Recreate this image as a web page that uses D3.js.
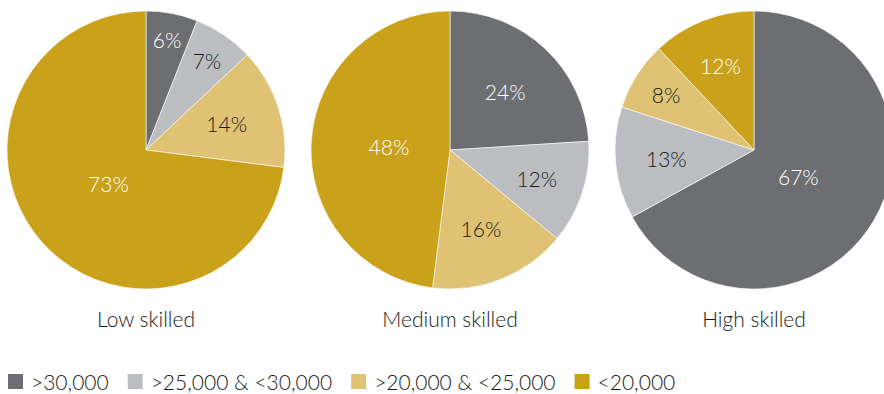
<!DOCTYPE html>
<html><head><meta charset="utf-8">
<script src="https://cdn.jsdelivr.net/npm/d3@7"></script>
<style>body{margin:0;background:#fff;overflow:hidden}svg{display:block}text{font-family:Lato,"Open Sans",sans-serif;font-weight:300}</style>
</head><body>
<svg id="c" width="884" height="394"></svg>
<script>
const series = [">30,000", ">25,000 & <30,000", ">20,000 & <25,000", "<20,000"];
const groups = ["Low skilled", "Medium skilled", "High skilled"];
const lowSkilled = [6, 7, 14, 73];
const mediumSkilled = [24, 12, 16, 48];
const highSkilled = [67, 13, 8, 12];
const colors = ["#6d6e71", "#bcbdc0", "#dfc274", "#c9a11a"];
const labelColors = ["#ffffff", "#1a1a1a", "#1a1a1a", "#ffffff"];

const data = [lowSkilled, mediumSkilled, highSkilled];
const svg = d3.select("#c");
const R = 139, cy = 150;
const cx = d3.scalePoint().domain(groups).range([146, 754]);
const pie = d3.pie().sort(null).value(d => d);
const arc = d3.arc().innerRadius(0).outerRadius(R);
const labelFrac = d3.scaleLinear().domain([0.06, 0.08, 0.14, 0.24, 0.48, 0.7]).range([0.81, 0.75, 0.61, 0.58, 0.44, 0.36]).clamp(true);

groups.forEach((g, gi) => {
  const vals = data[gi];
  const total = d3.sum(vals);
  const G = svg.append("g").attr("transform", `translate(${cx(g)},${cy})`);
  const arcs = pie(vals);
  G.selectAll("path").data(arcs).join("path")
    .attr("d", arc).attr("fill", (d, i) => colors[i])
    .attr("stroke", "#fff").attr("stroke-width", 0.6);
  G.selectAll("text.v").data(arcs).join("text").attr("class", "v")
    .each(function (d, i) {
      const a = (d.startAngle + d.endAngle) / 2;
      const r = R * labelFrac(d.value / total);
      d3.select(this).attr("x", Math.sin(a) * r).attr("y", -Math.cos(a) * r);
    })
    .attr("text-anchor", "middle").attr("dominant-baseline", "central")
    .attr("font-size", 21).attr("fill", (d, i) => labelColors[i])
    .text(d => d.value + "%");
  svg.append("text").attr("x", cx(g)).attr("y", 327).attr("text-anchor", "middle")
    .attr("font-size", 21).attr("fill", "#1a1a1a").text(g);
});

// legend
const lg = svg.append("g").attr("transform", "translate(8,374)");
let x = 0;
series.forEach((s, i) => {
  const it = lg.append("g").attr("transform", `translate(${x},0)`);
  it.append("rect").attr("width", 15).attr("height", 15).attr("fill", colors[i]);
  const t = it.append("text").attr("x", 23).attr("y", 7.5).attr("dominant-baseline", "central")
    .attr("font-size", 21).attr("fill", "#1a1a1a").text(s);
  x += 23 + t.node().getComputedTextLength() + 19;
});
</script>
</body></html>
